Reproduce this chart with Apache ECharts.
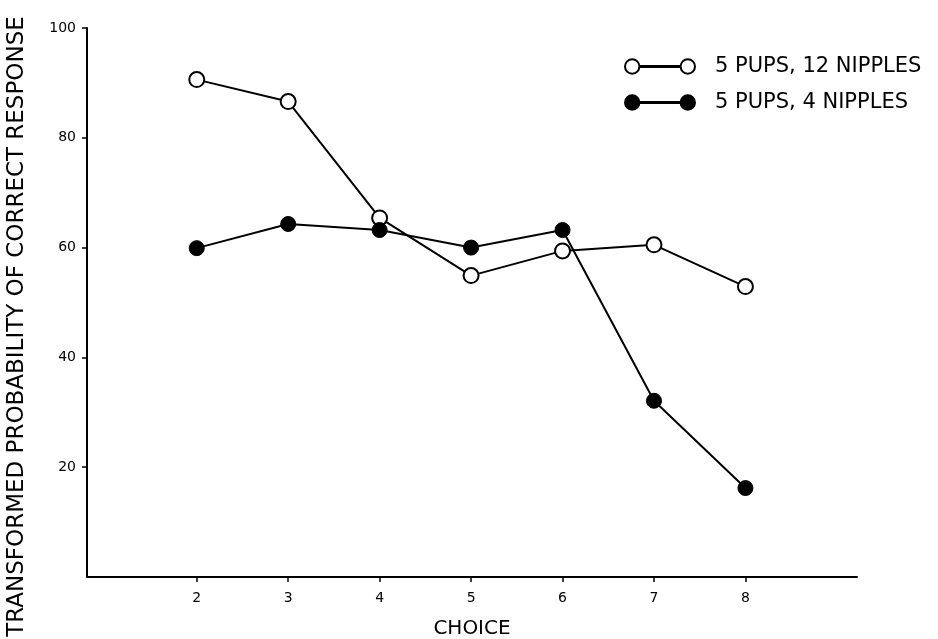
<!DOCTYPE html>
<html>
<head>
<meta charset="utf-8">
<script src="https://cdn.jsdelivr.net/npm/echarts@6/dist/echarts.min.js"></script>
<style>html,body{margin:0;padding:0;background:#fff}#c{width:938px;height:639px}</style>
</head>
<body>
<div id="c"></div>
<script>
var choices = [2, 3, 4, 5, 6, 7, 8];
var pups12 = [90.6, 86.6, 65.4, 54.9, 59.4, 60.5, 52.9];
var pups4 = [59.9, 64.3, 63.2, 60.0, 63.2, 32.1, 16.2];
var xTicks = [2, 3, 4, 5, 6, 7, 8];
var yTicks = [20, 40, 60, 80, 100];
var seriesNames = ['5 PUPS, 12 NIPPLES', '5 PUPS, 4 NIPPLES'];

function pairs(xs, ys) { return xs.map(function (x, i) { return [x, ys[i]]; }); }

var iconPath = 'path://M1,8A7,7,0,1,1,15,8A7,7,0,1,1,1,8Z M55,8A7,7,0,1,1,69,8A7,7,0,1,1,55,8Z M15,7.4L55,7.4L55,8.6L15,8.6Z';
var font = 'DejaVu Sans, Liberation Sans, sans-serif';

var chart = echarts.init(document.getElementById('c'), null, {renderer: 'canvas'});
chart.setOption({
  backgroundColor: '#fff',
  animation: false,
  grid: {left: 87, right: 81, top: 28, bottom: 62, containLabel: false, outerBoundsMode: 'none'},
  legend: {
    left: 619, top: 51, orient: 'vertical',
    itemWidth: 70, itemHeight: 16, itemGap: 15,
    icon: iconPath,
    textStyle: {fontFamily: font, fontSize: 21, color: '#000', padding: [0, 0, 0, 15]},
    data: seriesNames
  },
  xAxis: {
    type: 'value', min: 0.8, max: 9.22,
    name: 'CHOICE', nameLocation: 'middle', nameGap: 42,
    nameTextStyle: {fontFamily: font, fontSize: 20, color: '#000'},
    axisLine: {onZero: false, lineStyle: {color: '#000', width: 2}},
    axisTick: {show: true, inside: false, length: 5, lineStyle: {color: '#000', width: 1.5}, customValues: xTicks},
    axisLabel: {customValues: xTicks, color: '#000', fontFamily: font, fontSize: 14, margin: 14},
    splitLine: {show: false}
  },
  yAxis: {
    type: 'value', min: 0, max: 100,
    name: 'TRANSFORMED PROBABILITY OF CORRECT RESPONSE', nameLocation: 'middle', nameGap: 58,
    nameTextStyle: {fontFamily: font, fontSize: 23, color: '#000', padding: [0, 48, 0, 0]},
    axisLine: {show: true, lineStyle: {color: '#000', width: 2}},
    axisTick: {show: true, inside: false, length: 5, lineStyle: {color: '#000', width: 1.5}, customValues: yTicks},
    axisLabel: {customValues: yTicks, color: '#000', fontFamily: font, fontSize: 14, margin: 11},
    splitLine: {show: false}
  },
  series: [
    {
      name: seriesNames[0], type: 'line', data: pairs(choices, pups12),
      symbol: 'circle', symbolSize: 15, z: 2,
      lineStyle: {color: '#000', width: 2},
      itemStyle: {color: '#fff', borderColor: '#000', borderWidth: 2}
    },
    {
      name: seriesNames[1], type: 'line', data: pairs(choices, pups4),
      symbol: 'circle', symbolSize: 15, z: 3,
      lineStyle: {color: '#000', width: 2},
      itemStyle: {color: '#000', borderColor: '#000', borderWidth: 1}
    }
  ]
});
</script>
</body>
</html>
